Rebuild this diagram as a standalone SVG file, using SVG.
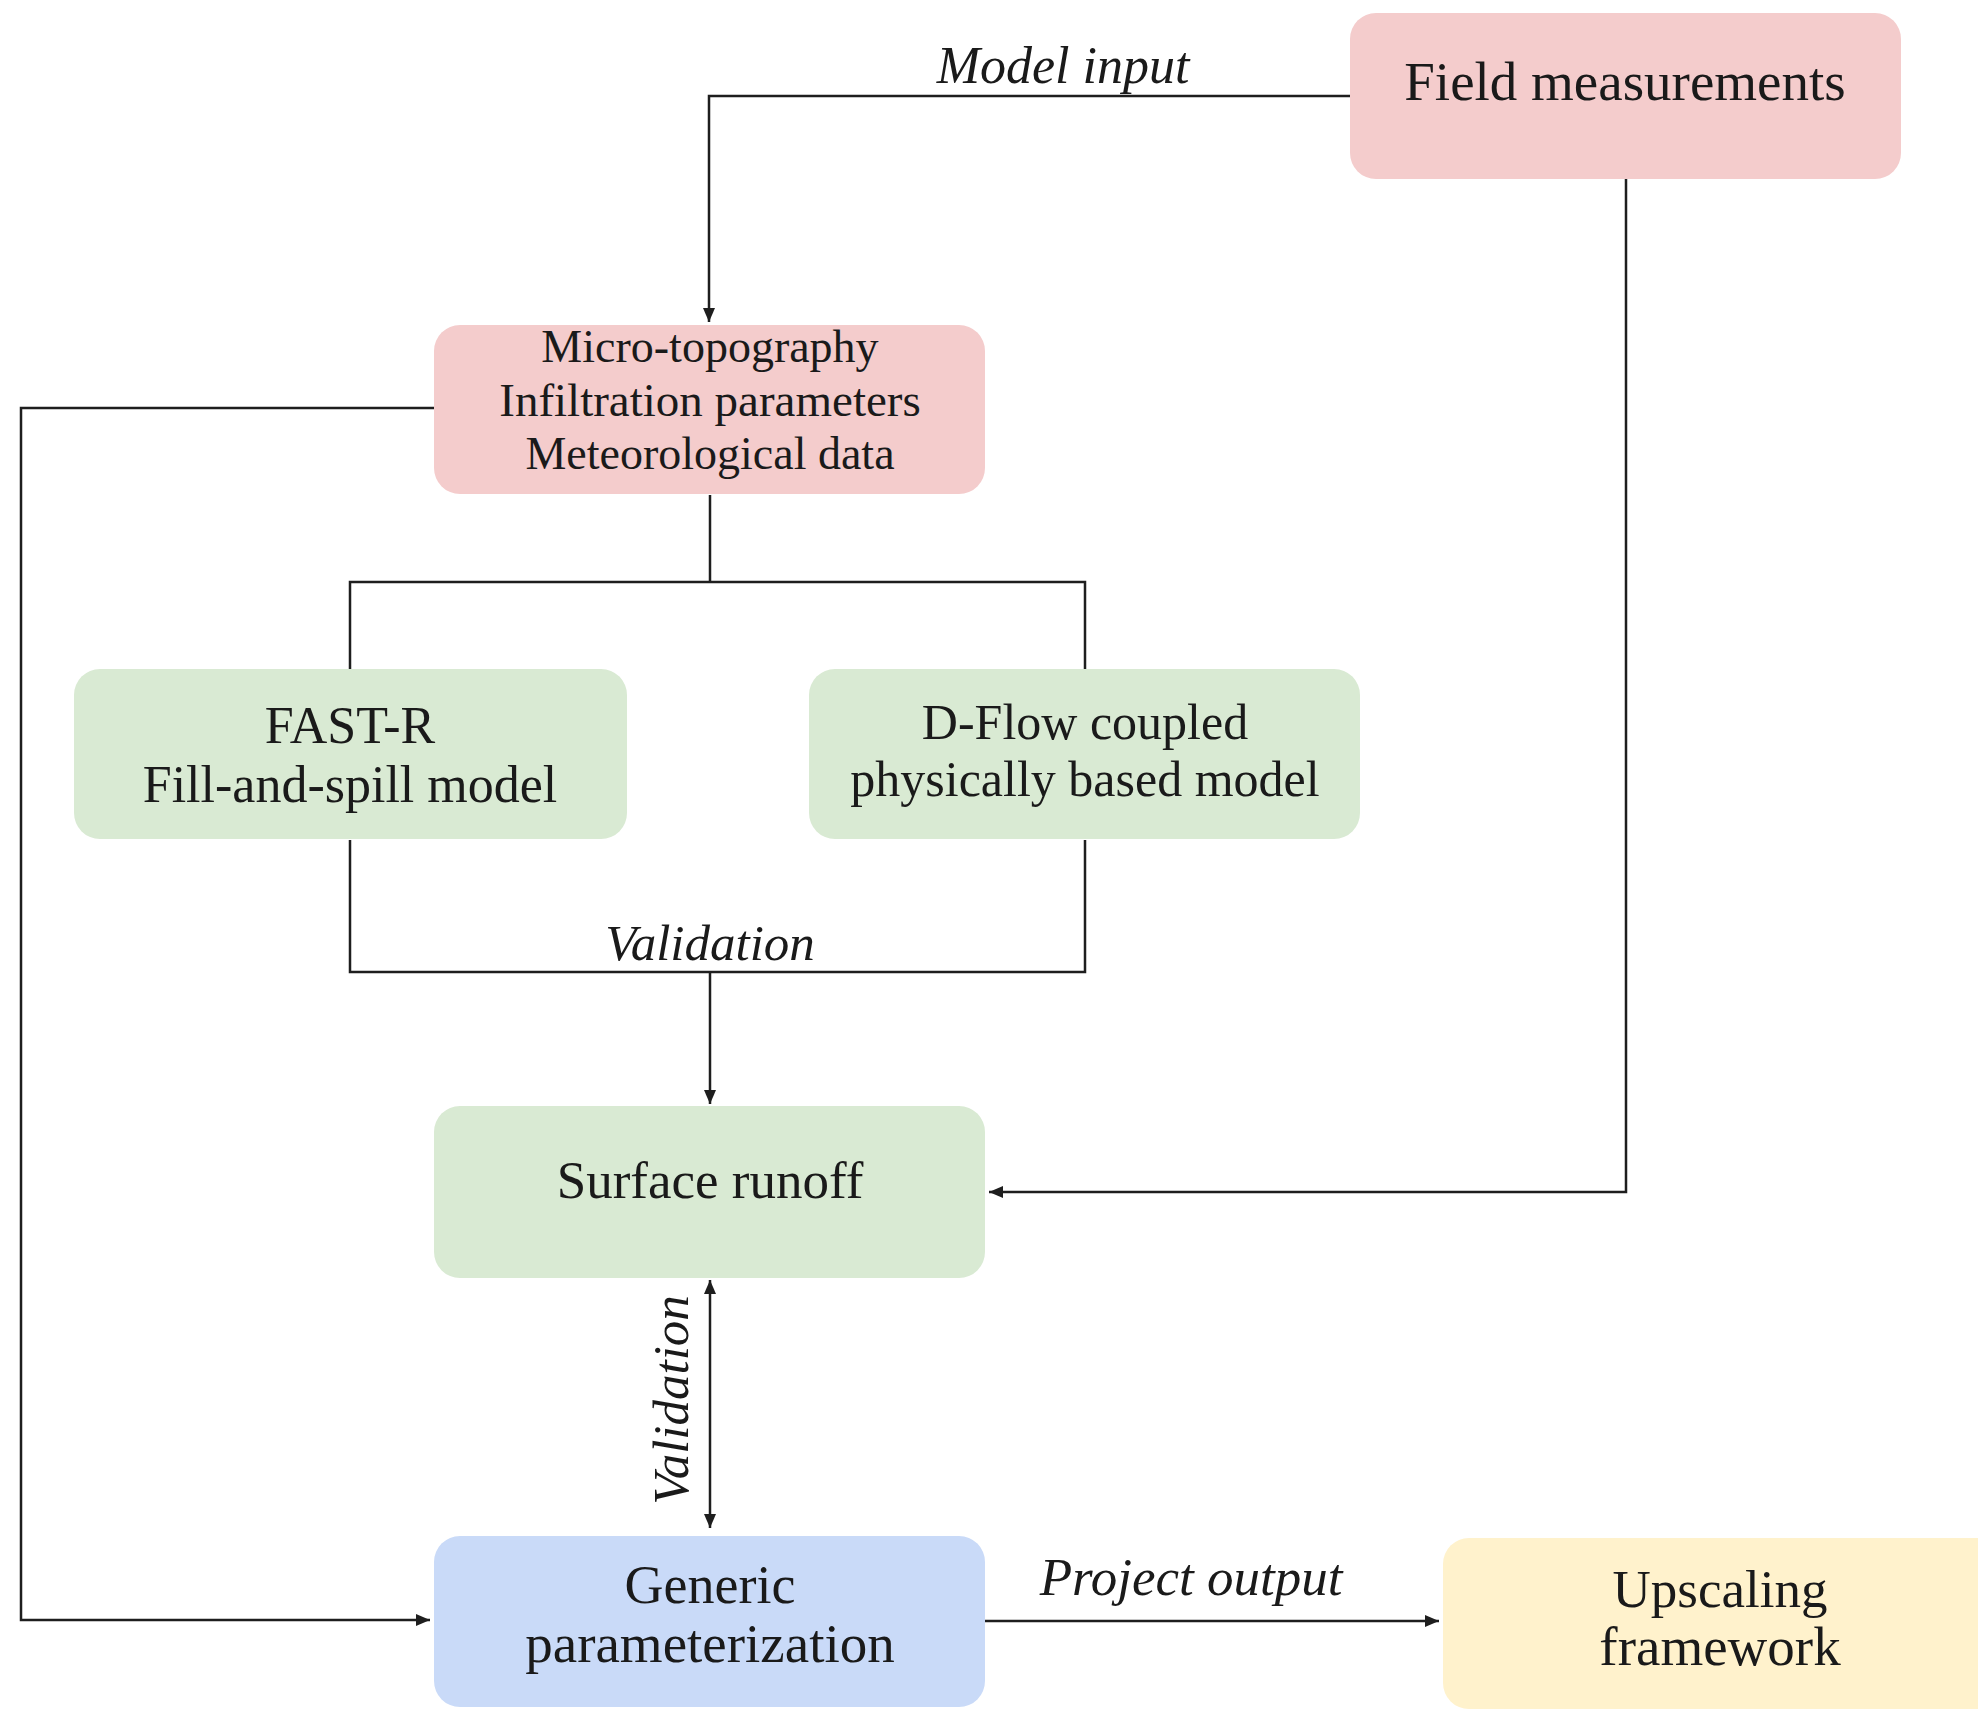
<svg xmlns="http://www.w3.org/2000/svg" width="1978" height="1712" viewBox="0 0 1978 1712">
<style>
.box{stroke:none}
.pink{fill:#f4cccc}
.green{fill:#d9ead3}
.blue{fill:#c9daf8}
.yellow{fill:#fff2cc}
.t{font-family:"Liberation Serif","Times New Roman",serif;fill:#1a1a1a;text-anchor:middle}
.it{font-family:"Liberation Serif","Times New Roman",serif;font-style:italic;fill:#1a1a1a;text-anchor:middle}
.ln{fill:none;stroke:#1e1e1e;stroke-width:2.5}
</style>
<defs>
<marker id="ah" markerUnits="userSpaceOnUse" markerWidth="16" markerHeight="14" refX="14" refY="7" orient="auto-start-reverse">
<path d="M0,1 L14,7 L0,13 Z" fill="#1e1e1e"/>
</marker>
</defs>
<rect width="1978" height="1712" fill="#ffffff"/>
<g id="connectors">
<path class="ln" d="M1350,96 H709 V322" marker-end="url(#ah)"/>
<path class="ln" d="M1626,179 V1192 H989" marker-end="url(#ah)"/>
<path class="ln" d="M434,408 H21 V1620 H430" marker-end="url(#ah)"/>
<path class="ln" d="M710,495 V582"/>
<path class="ln" d="M350,670 V582 H1085 V670"/>
<path class="ln" d="M350,840 V972 H1085 V840"/>
<path class="ln" d="M710,972 V1104" marker-end="url(#ah)"/>
<path class="ln" d="M710,1280 V1528" marker-start="url(#ah)" marker-end="url(#ah)"/>
<path class="ln" d="M985,1621 H1439" marker-end="url(#ah)"/>
<text class="it" x="1063" y="83" font-size="52">Model input</text>
<text class="it" x="710" y="960" font-size="51">Validation</text>
<text class="it" transform="translate(688,1400) rotate(-90)" font-size="51">Validation</text>
<text class="it" x="1191" y="1595" font-size="53">Project output</text>
</g>
<g id="field">
<rect class="box pink" x="1350" y="13" width="551" height="166" rx="26"/>
<text class="t" x="1625" y="100" font-size="55">Field measurements</text>
</g>
<g id="inputs">
<rect class="box pink" x="434" y="325" width="551" height="169" rx="26"/>
<text class="t" x="710" y="362" font-size="46">Micro-topography</text>
<text class="t" x="710" y="416" font-size="47">Infiltration parameters</text>
<text class="t" x="710" y="469" font-size="46">Meteorological data</text>
</g>
<g id="fastr">
<rect class="box green" x="74" y="669" width="553" height="170" rx="26"/>
<text class="t" x="350" y="743" font-size="52">FAST-R</text>
<text class="t" x="350" y="802" font-size="52">Fill-and-spill model</text>
</g>
<g id="dflow">
<rect class="box green" x="809" y="669" width="551" height="170" rx="26"/>
<text class="t" x="1085" y="739" font-size="50">D-Flow coupled</text>
<text class="t" x="1085" y="796" font-size="50">physically based model</text>
</g>
<g id="runoff">
<rect class="box green" x="434" y="1106" width="551" height="172" rx="26"/>
<text class="t" x="710" y="1198" font-size="53">Surface runoff</text>
</g>
<g id="generic">
<rect class="box blue" x="434" y="1536" width="551" height="171" rx="26"/>
<text class="t" x="710" y="1603" font-size="54">Generic</text>
<text class="t" x="710" y="1662" font-size="55">parameterization</text>
</g>
<g id="upscaling">
<rect class="box yellow" x="1443" y="1538" width="560" height="171" rx="26"/>
<text class="t" x="1720" y="1607" font-size="53">Upscaling</text>
<text class="t" x="1720" y="1665" font-size="55">framework</text>
</g>
</svg>
